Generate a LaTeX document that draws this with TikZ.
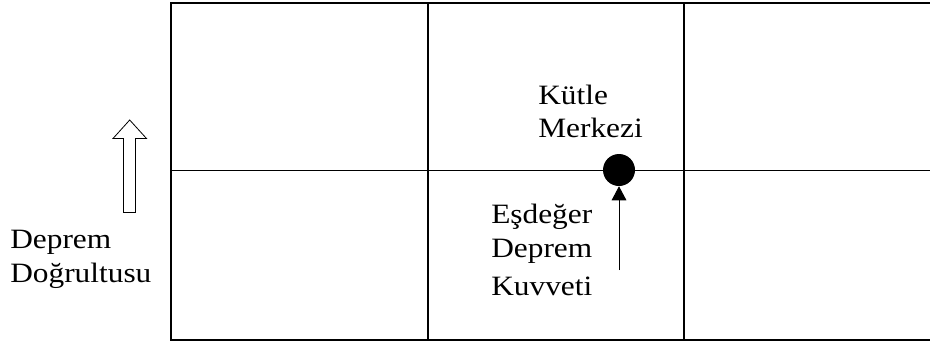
\documentclass[tikz,border=0pt]{standalone}
\usepackage{fontspec}
\setmainfont{Liberation Serif}[FakeStretch=1.12]
\usetikzlibrary{arrows.meta}
\tikzset{
  gridline/.style={line width=0.8pt, black},
  lbl/.style={anchor=base west, inner sep=0pt, font=\fontsize{21}{25}\selectfont},
  hollowarrow/.style={draw=black, line width=0.6pt, fill=white, line join=miter},
  mass/.style={circle, fill=black, inner sep=0pt, minimum size=24pt},
  force/.style={line width=0.7pt, -{Triangle[width=11pt,length=10.5pt]}}
}
\begin{document}
\begin{tikzpicture}[x=0.75pt,y=-0.75pt]
\useasboundingbox (0,0) rectangle (930,343);
\clip (0,0) rectangle (930,343);
% grid
\draw[gridline] (171,3) rectangle (942,340);
\draw[gridline] (428,3) -- (428,340);
\draw[gridline] (684,3) -- (684,340);
\draw[gridline] (171,170.5) -- (942,170.5);
% hollow direction arrow
\draw[hollowarrow] (123.5,212.5) -- (123.5,138.5) -- (113,138.5) -- (129.7,120) -- (146.5,138.5) -- (135.5,138.5) -- (135.5,212.5) -- cycle;
% labels left
\node[lbl] (d1) at (10,248) {Deprem};
\node[lbl] (d2) at (10,282) {Doğrultusu};
% mass centre
\node[mass] (cm) at (619,170) {};
\node[lbl] (k1) at (538,104) {Kütle};
\node[lbl] (k2) at (538,137) {Merkezi};
% force
\coordinate (fs) at (619,270);
\draw[force] (fs) -- (cm.south);
\node[lbl] (e1) at (491,223) {Eşdeğer};
\node[lbl] (e2) at (491,257) {Deprem};
\node[lbl] (e3) at (491,295) {Kuvveti};
\end{tikzpicture}
\end{document}
